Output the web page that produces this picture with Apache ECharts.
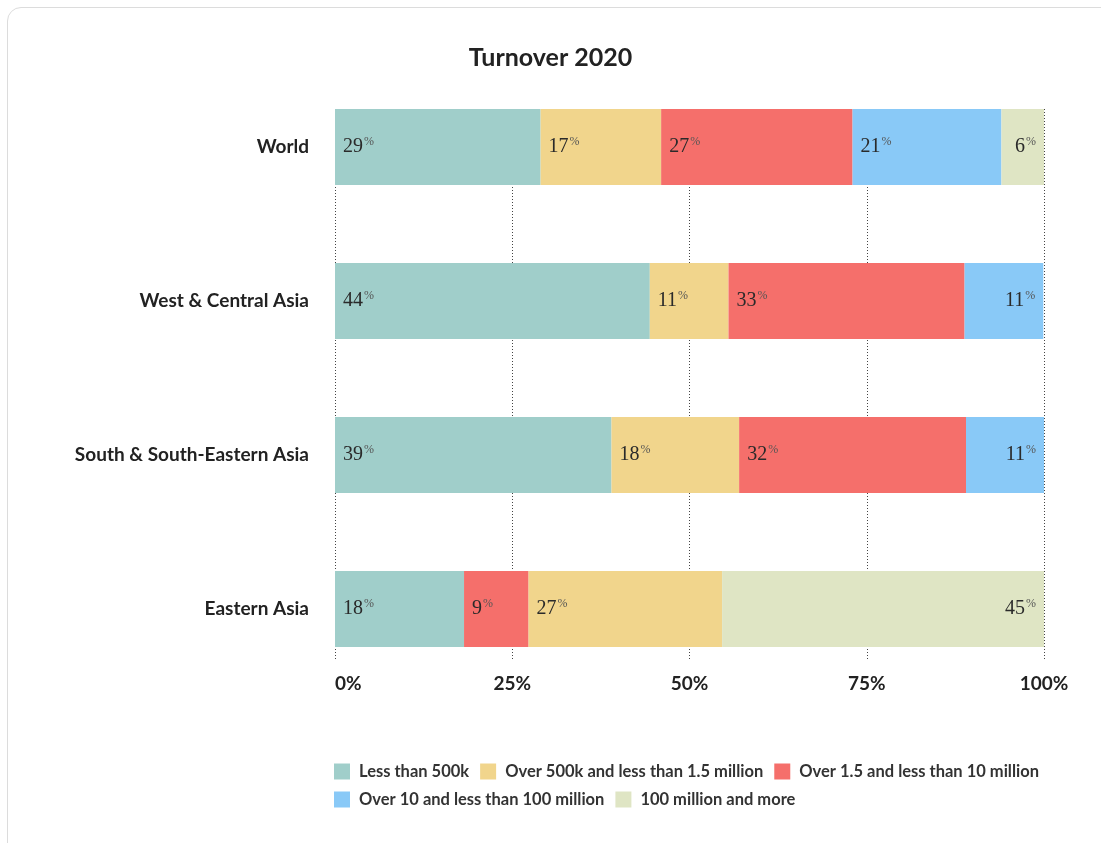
<!DOCTYPE html>
<html><head><meta charset="utf-8">
<script src="https://cdn.jsdelivr.net/npm/echarts@6/dist/echarts.min.js"></script>
<style>
html,body{margin:0;padding:0;background:#fff;overflow:hidden;}
#card{position:absolute;left:7px;top:7px;width:1120px;height:860px;border:1px solid #dcdcdc;border-radius:14px;box-sizing:border-box;}
#chart{position:absolute;left:0;top:0;width:1101px;height:843px;}
</style></head>
<body>
<div id="card"></div>
<div id="chart"></div>
<script>
const titleText = 'Turnover 2020';
const categories = ['World', 'West & Central Asia', 'South & South-Eastern Asia', 'Eastern Asia'];
const seriesNames = ['Less than 500k', 'Over 500k and less than 1.5 million', 'Over 1.5 and less than 10 million', 'Over 10 and less than 100 million', '100 million and more'];
const lessThan500k   = [29, 44.4, 39, 18.2];
const over500kTo1_5m = [17, 11.1, 18, 27.3];
const over1_5To10m   = [27, 33.3, 32, 9.1];
const over10To100m   = [21, 11.1, 11, 0];
const over100m       = [6, 0, 0, 45.4];
// rows in which the "Over 1.5 and less than 10 million" segment is drawn before the yellow one
const redFirstRows = ['Eastern Asia'];
const xTicks = [0, 25, 50, 75, 100];

const colors = ['#a0ceca', '#f1d58c', '#f56f6b', '#89c9f7', '#dfe5c4'];
const values = [lessThan500k, over500kTo1_5m, over1_5To10m, over10To100m, over100m];

const seq = [
  {k: 0, rows: 'all'},
  {k: 2, rows: 'first'},
  {k: 1, rows: 'all'},
  {k: 2, rows: 'notfirst'},
  {k: 3, rows: 'all'},
  {k: 4, rows: 'all'}
];
function included(s, cat) {
  const f = redFirstRows.indexOf(cat) >= 0;
  if (s.rows === 'all') return true;
  if (s.rows === 'first') return f;
  return !f;
}
const lastSeq = categories.map(cat => {
  let last = -1;
  seq.forEach((s, i) => { if (included(s, cat) && values[s.k][categories.indexOf(cat)] > 0) last = i; });
  return last;
});

const series = seq.map((s, si) => ({
  type: 'bar',
  name: seriesNames[s.k],
  stack: 'total',
  xAxisIndex: 0, yAxisIndex: 0,
  barWidth: 76,
  itemStyle: {color: colors[s.k]},
  emphasis: {disabled: true},
  label: {
    show: true,
    position: 'insideLeft',
    distance: 8,
    formatter: p => '{n|' + Math.round(p.value) + '}{p|%}',
    rich: {
      n: {fontFamily: 'Liberation Serif', fontSize: 20, color: '#2a2a2a', lineHeight: 22},
      p: {fontFamily: 'Liberation Serif', fontSize: 12, color: '#555', lineHeight: 22, verticalAlign: 'top', padding: [0, 0, 0, 1]}
    }
  },
  data: categories.map((cat, ci) => {
    const v = values[s.k][ci];
    if (!included(s, cat) || !(v > 0)) return '-';
    if (lastSeq[ci] === si) return {value: v, label: {position: 'insideRight'}};
    return v;
  })
}));

const chart = echarts.init(document.getElementById('chart'), null, {renderer: 'canvas'});
chart.setOption({
  animation: false,
  title: {
    text: titleText, left: 'center', top: 40,
    textStyle: {fontFamily: 'Lato', fontWeight: 'bold', fontSize: 25, color: '#222'}
  },
  legend: {
    data: seriesNames,
    left: 329, top: 758, width: 740,
    icon: 'rect', itemWidth: 16, itemHeight: 16, itemGap: 11,
    textStyle: {fontFamily: 'Lato', fontWeight: 'bold', fontSize: 16.5, lineHeight: 16, color: '#333', padding: [0, 0, 0, 4]},
    selectedMode: false
  },
  grid: [
    {left: 335, right: 57, top: 70, bottom: 157},
    {left: 335, right: 57, top: 109, bottom: 183}
  ],
  xAxis: [
    {gridIndex: 0, type: 'value', min: 0, max: 100, interval: 25, show: false},
    {gridIndex: 1, type: 'value', min: 0, max: 100, interval: 25,
     axisLine: {show: false}, axisTick: {show: false},
     splitLine: {show: true, lineStyle: {type: [1, 2], color: '#444', width: 1}},
     axisLabel: {
       margin: 14, fontFamily: 'Lato', fontWeight: 'bold', fontSize: 19, color: '#222',
       formatter: v => v + '%', alignMinLabel: 'left'
     }}
  ],
  yAxis: [
    {gridIndex: 0, type: 'category', data: categories, inverse: true,
     axisLine: {show: false}, axisTick: {show: false}, splitLine: {show: false},
     axisLabel: {margin: 26, fontFamily: 'Lato', fontWeight: 'bold', fontSize: 19, color: '#222'}},
    {gridIndex: 1, type: 'value', show: false}
  ],
  series: series
});
</script>
</body></html>
